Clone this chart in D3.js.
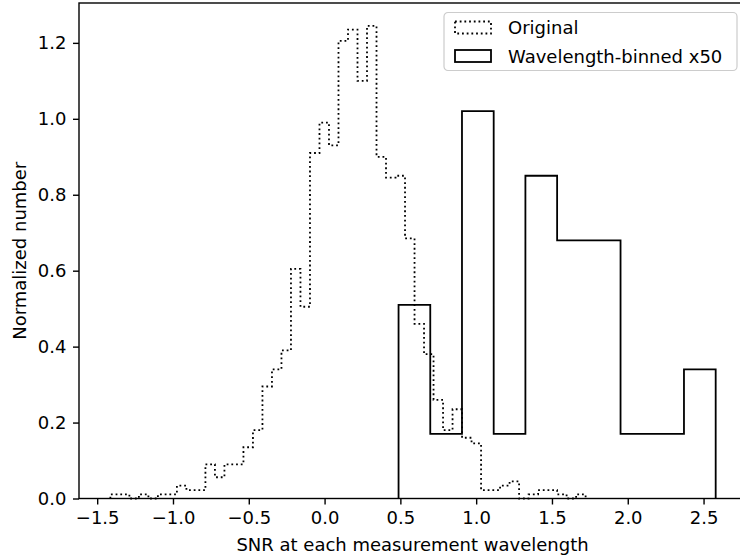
<!DOCTYPE html>
<html>
<head>
<meta charset="utf-8">
<script src="https://cdn.jsdelivr.net/npm/d3@7"></script>
<style>
    body { margin: 0; background: #fff; }
    text { font-family: "DejaVu Sans", sans-serif; fill: #000; }
</style>
</head>
<body>
<main></main>
<script>
// "Original" histogram: 50 equal bins between these limits
const origLo = -1.413, origHi = 1.722;
const origValues = [
    0.011, 0.011, 0, 0.011, 0, 0.011, 0.011, 0.034, 0.022, 0.022,
    0.09, 0.056, 0.09, 0.09, 0.135, 0.18, 0.295, 0.34, 0.39, 0.605,
    0.505, 0.91, 0.99, 0.93, 1.205, 1.235, 1.10, 1.245, 0.90, 0.845,
    0.85, 0.685, 0.46, 0.38, 0.26, 0.18, 0.235, 0.16, 0.145, 0.022,
    0.022, 0.034, 0.045, 0, 0.011, 0.022, 0.022, 0.011, 0, 0.011
];

// "Wavelength-binned x50" histogram: 10 equal bins
const binnedLo = 0.488, binnedHi = 2.58;
const binnedValues = [0.51, 0.17, 1.02, 0.17, 0.85, 0.68, 0.68, 0.17, 0.17, 0.34];

const xTicks = [-1.5, -1.0, -0.5, 0.0, 0.5, 1.0, 1.5, 2.0, 2.5];
const yTicks = [0.0, 0.2, 0.4, 0.6, 0.8, 1.0, 1.2];
const legendLabels = ["Original", "Wavelength-binned x50"];

const drawChart = () => {

    const outerWidth = 740,
        outerHeight = 558,
        margin = {top: 3, left: 79},
        width = 667,
        height = 495.5,
        fontSize = "18px";

    const svg = d3.select("main").append("svg")
        .attr("width", outerWidth)
        .attr("height", outerHeight)
        .append("g")
        .attr("transform", "translate(" + margin.left + "," + margin.top + ")");

    const xScale = d3.scaleLinear().domain([-1.62, 2.78]).range([0, width]);
    const yScale = d3.scaleLinear().domain([0, 1.305]).range([height, 0]);

    // histogram outline as a step path (like histtype='step')
    const stepPoints = (lo, hi, values) => {
        const n = values.length;
        const edges = d3.range(n + 1).map(i => lo + (hi - lo) * i / n);
        const pts = [{x: edges[0], y: 0}];
        values.forEach((v, i) => pts.push({x: edges[i], y: v}));
        pts.push({x: edges[n], y: 0});
        return pts;
    };

    const line = d3.line()
        .x((d) => {return xScale(d.x)})
        .y((d) => {return yScale(d.y)})
        .curve(d3.curveStepAfter);

    svg.append("path")
        .datum(stepPoints(origLo, origHi, origValues))
        .attr("fill", "none")
        .attr("stroke", "#000")
        .attr("stroke-width", 1.8)
        .attr("stroke-dasharray", "1.8,2.9")
        .attr("d", line);

    svg.append("path")
        .datum(stepPoints(binnedLo, binnedHi, binnedValues))
        .attr("fill", "none")
        .attr("stroke", "#000")
        .attr("stroke-width", 1.8)
        .attr("d", line);

    const xAxis = d3.axisBottom(xScale)
        .tickValues(xTicks)
        .tickFormat(d3.format(".1f"))
        .tickSize(6)
        .tickPadding(6.5)
        .tickSizeOuter(0);

    const yAxis = d3.axisLeft(yScale)
        .tickValues(yTicks)
        .tickFormat(d3.format(".1f"))
        .tickSize(6)
        .tickPadding(6.5)
        .tickSizeOuter(0);

    const gx = svg.append("g")
        .attr("class", "axis")
        .attr("transform", "translate(0," + height + ")")
        .call(xAxis);

    const gy = svg.append("g")
        .attr("class", "axis")
        .call(yAxis);

    [gx, gy].forEach(g => {
        g.select(".domain").remove();
        g.selectAll(".tick line").attr("stroke", "#000").attr("stroke-width", 1.4);
        g.selectAll(".tick text")
            .style("font-family", "'DejaVu Sans', sans-serif")
            .style("font-size", fontSize)
            .attr("fill", "#000");
    });

    // frame (spines)
    svg.append("rect")
        .attr("x", 0)
        .attr("y", 0)
        .attr("width", width)
        .attr("height", height)
        .attr("fill", "none")
        .attr("stroke", "#000")
        .attr("stroke-width", 1.4);

    svg.append("text")
        .attr("x", width / 2)
        .attr("y", height + 52)
        .attr("text-anchor", "middle")
        .style("font-size", fontSize)
        .text("SNR at each measurement wavelength");

    svg.append("text")
        .attr("transform", "translate(" + (-53) + "," + (height / 2) + ") rotate(-90)")
        .attr("text-anchor", "middle")
        .style("font-size", fontSize)
        .text("Normalized number");

    // legend
    const legend = svg.append("g")
        .attr("transform", "translate(" + (444 - margin.left) + "," + (12.5 - margin.top) + ")");

    legend.append("rect")
        .attr("width", 293)
        .attr("height", 58)
        .attr("rx", 4)
        .attr("fill", "#fff")
        .attr("fill-opacity", 0.8)
        .attr("stroke", "#ccc")
        .attr("stroke-width", 1.2);

    legendLabels.forEach((label, i) => {
        const row = legend.append("g")
            .attr("transform", "translate(0," + (15 + i * 28.5) + ")");
        row.append("rect")
            .attr("x", 11)
            .attr("y", -6)
            .attr("width", 36)
            .attr("height", 12)
            .attr("fill", "none")
            .attr("stroke", "#000")
            .attr("stroke-width", 1.8)
            .attr("stroke-dasharray", i === 0 ? "1.8,2.9" : null);
        row.append("text")
            .attr("x", 64)
            .attr("y", 6.5)
            .style("font-size", fontSize)
            .text(label);
    });
}

drawChart();
</script>
</body>
</html>
